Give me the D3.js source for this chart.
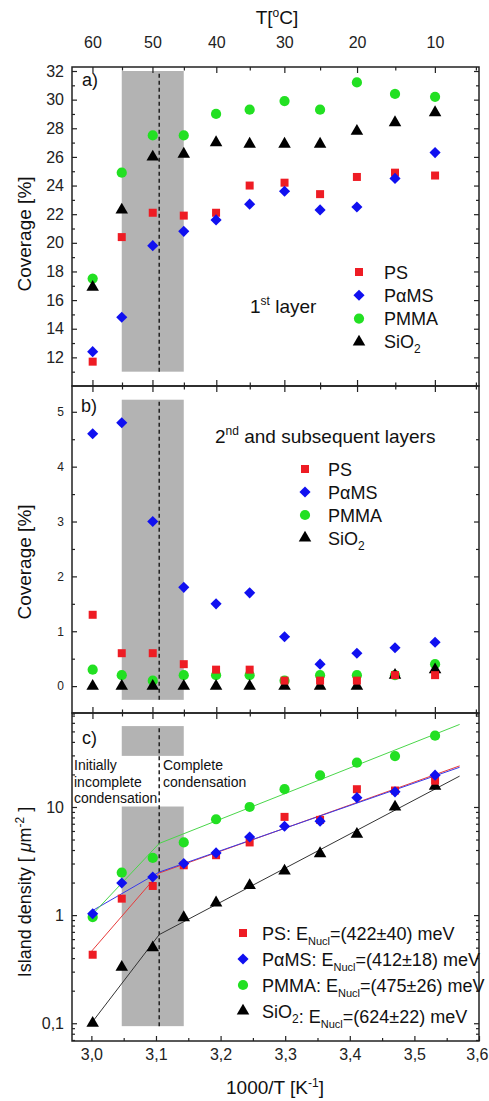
<!DOCTYPE html>
<html>
<head>
<meta charset="utf-8">
<script src="https://cdn.jsdelivr.net/npm/d3@7"></script>
<style>
  body { margin: 0; background: #fff; }
  svg { font-family: "Liberation Sans", Arial, sans-serif; }
</style>
</head>
<body>
<div id="chart"></div>
<script>
/* Data */
const tempsC = [60, 55, 50, 45, 40, 35, 30, 25, 20, 15, 10];
const invT = [3.002, 3.047, 3.095, 3.143, 3.193, 3.245, 3.299, 3.354, 3.411, 3.470, 3.532];

const seriesNames = ["PS", "PαMS", "PMMA", "SiO2"];

// a) 1st layer coverage [%]
const cov1PS   = [11.7, 20.4, 22.1, 21.9, 22.1, 24.0, 24.2, 23.4, 24.6, 24.9, 24.7];
const cov1PaMS = [12.4, 14.8, 19.8, 20.8, 21.6, 22.7, 23.6, 22.3, 22.5, 24.5, 26.3];
const cov1PMMA = [17.5, 24.9, 27.5, 27.5, 29.0, 29.3, 29.9, 29.3, 31.2, 30.4, 30.2];
const cov1SiO2 = [16.9, 22.3, 26.0, 26.2, 27.0, 26.9, 26.9, 26.9, 27.8, 28.4, 29.1];

// b) 2nd and subsequent layers coverage [%]
const cov2PS   = [1.3, 0.6, 0.6, 0.4, 0.3, 0.3, 0.1, 0.1, 0.1, 0.2, 0.2];
const cov2PaMS = [4.6, 4.8, 3.0, 1.8, 1.5, 1.7, 0.9, 0.4, 0.6, 0.7, 0.8];
const cov2PMMA = [0.3, 0.2, 0.1, 0.2, 0.2, 0.2, 0.1, 0.2, 0.2, 0.2, 0.4];
const cov2SiO2 = [0, 0, 0, 0, 0, 0, 0, 0, 0, 0.2, 0.3];

// c) island density [um^-2]
const densPS   = [0.43, 1.42, 1.86, 2.89, 3.58, 4.7, 8.1, 7.6, 14.6, 14.2, 17.5];
const densPaMS = [1.03, 1.98, 2.25, 3.0, 3.76, 5.28, 6.64, 7.39, 12.2, 13.8, 19.7];
const densPMMA = [0.96, 2.47, 3.38, 4.7, 7.7, 10.0, 14.6, 19.6, 25.7, 29.6, 45.7];
const densSiO2 = [0.1, 0.33, 0.5, 0.95, 1.3, 1.88, 2.56, 3.71, 5.6, 10.0, 15.6];

// piecewise Arrhenius fits: [1000/T, density]
const fitPS   = [[2.997, 0.44], [3.105, 2.45], [3.57, 24.0]];
const fitPaMS = [[2.997, 1.06], [3.105, 2.5], [3.57, 23.3]];
const fitPMMA = [[2.997, 0.95], [3.105, 4.6], [3.57, 58]];
const fitSiO2 = [[3.0, 0.1], [3.105, 0.66], [3.57, 19.3]];

const energies = ["(422±40) meV", "(412±18) meV", "(475±26) meV", "(624±22) meV"];

// axes
const topMajorC = [60, 50, 40, 30, 20, 10];
const topMinorC = [55, 45, 35, 25, 15, 5];
const xMajor = [3.0, 3.1, 3.2, 3.3, 3.4, 3.5, 3.6];
const xMinor = [3.05, 3.15, 3.25, 3.35, 3.45, 3.55];
const yAMajor = [12, 14, 16, 18, 20, 22, 24, 26, 28, 30, 32];
const yAMinor = [11, 13, 15, 17, 19, 21, 23, 25, 27, 29, 31];
const yBMajor = [0, 1, 2, 3, 4, 5];
const yBMinor = [-0.5, 0.5, 1.5, 2.5, 3.5, 4.5];
const yCMajor = [0.1, 1, 10];
const yCMinor = [0.07, 0.08, 0.09, 0.2, 0.3, 0.4, 0.5, 0.6, 0.7, 0.8, 0.9,
                 2, 3, 4, 5, 6, 7, 8, 9, 20, 30, 40, 50, 60, 70];

// shaded region (55..45 C) and transition line
const bandX = [3.047, 3.143];
const bandA = [11, 32];
const bandB = [-0.25, 5.22];
const bandC = [[0.094, 10.1], [29.7, 56]];
const transitionX = 3.105;

/* Layout */
const width = 489, height = 1101;
const X0 = 72, X1 = 479;
const panelA = [67, 386], panelB = [386, 713], panelC = [713, 1041];

const colors = ["#ee1c24", "#1010f0", "#22e022", "#000000"];
const lineColors = ["#e83a3a", "#3a3ae8", "#4ad64a", "#333333"];
const symbols = [
  { type: d3.symbolSquare, size: 64, rot: 0 },
  { type: d3.symbolSquare, size: 62, rot: 45 },
  { type: d3.symbolCircle, size: 82, rot: 0 },
  { type: d3.symbolTriangle, size: 68, rot: 0 }
];
const drawOrder = [2, 3, 0, 1];

const invTemp = (t) => 1000 / (t + 273.15);
const comma = (v) => String(v).replace(".", ",");

/* Scales */
const x = d3.scaleLinear().domain([2.97, 3.6]).range([X0, X1]);
const yA = d3.scaleLinear().domain([10, 32.28]).range([panelA[1], panelA[0]]);
const yB = d3.scaleLinear().domain([-0.49, 5.47]).range([panelB[1], panelB[0]]);
const yC = d3.scaleLog().domain([0.0685, 74]).range([panelC[1], panelC[0]]);

const svg = d3.select("#chart").append("svg")
  .attr("width", width).attr("height", height);

/* Shaded band + dashed line */
function band(yScale, lo, hi) {
  svg.append("rect")
    .attr("x", x(bandX[0])).attr("width", x(bandX[1]) - x(bandX[0]))
    .attr("y", yScale(hi)).attr("height", yScale(lo) - yScale(hi))
    .attr("fill", "#b3b3b3");
}
function dashed(yScale, lo, hi) {
  svg.append("line")
    .attr("x1", x(transitionX)).attr("x2", x(transitionX))
    .attr("y1", yScale(lo)).attr("y2", yScale(hi))
    .attr("stroke", "#222").attr("stroke-width", 1.5)
    .attr("stroke-dasharray", "4,3");
}
band(yA, bandA[0], bandA[1]);
band(yB, bandB[0], bandB[1]);
bandC.forEach(b => band(yC, b[0], b[1]));
dashed(yA, bandA[0], bandA[1]);
dashed(yB, bandB[0], bandB[1]);
dashed(yC, bandC[0][0], bandC[1][1]);

/* Fit lines (panel c) */
const fits = [fitPS, fitPaMS, fitPMMA, fitSiO2];
const line = d3.line().x(d => x(d[0])).y(d => yC(d[1]));
fits.forEach((f, i) => {
  svg.append("path").datum(f)
    .attr("d", line)
    .attr("fill", "none")
    .attr("stroke", lineColors[i])
    .attr("stroke-width", 1);
});

/* Markers */
function marker(g, i, px, py) {
  const s = symbols[i];
  g.append("path")
    .attr("d", d3.symbol().type(s.type).size(s.size)())
    .attr("transform", `translate(${px},${py}) rotate(${s.rot})`)
    .attr("fill", colors[i]);
}
function scatter(yScale, sets) {
  const g = svg.append("g");
  drawOrder.forEach(i => {
    sets[i].forEach((v, k) => marker(g, i, x(invT[k]), yScale(v)));
  });
}
scatter(yA, [cov1PS, cov1PaMS, cov1PMMA, cov1SiO2]);
scatter(yB, [cov2PS, cov2PaMS, cov2PMMA, cov2SiO2]);
scatter(yC, [densPS, densPaMS, densPMMA, densSiO2]);

/* Axes */
const tickColor = "#222";
function yTicks(yScale, majors, minors, fmt, fs) {
  const gl = svg.append("g").attr("transform", `translate(${X0},0)`)
    .call(d3.axisLeft(yScale).tickValues(majors).tickSize(-5).tickPadding(8).tickFormat(fmt));
  gl.selectAll("text").style("font-size", fs + "px");
  svg.append("g").attr("transform", `translate(${X0},0)`)
    .call(d3.axisLeft(yScale).tickValues(minors).tickSize(-3).tickFormat(""));
  svg.append("g").attr("transform", `translate(${X1},0)`)
    .call(d3.axisRight(yScale).tickValues(majors).tickSize(-5).tickFormat(""));
  svg.append("g").attr("transform", `translate(${X1},0)`)
    .call(d3.axisRight(yScale).tickValues(minors).tickSize(-3).tickFormat(""));
}
yTicks(yA, yAMajor, yAMinor, d => d, 16);
yTicks(yB, yBMajor, yBMinor, d => d, 12);
yTicks(yC, yCMajor, yCMinor, d => comma(d), 16);

// temperature ticks on every panel edge except the very bottom
function tTicks(yPos, dir) {
  const ax = dir === "top" ? d3.axisTop : d3.axisBottom;
  svg.append("g").attr("transform", `translate(0,${yPos})`)
    .call(ax(x).tickValues(topMajorC.map(invTemp)).tickSize(-6).tickFormat(""));
  svg.append("g").attr("transform", `translate(0,${yPos})`)
    .call(ax(x).tickValues(topMinorC.map(invTemp)).tickSize(-3.5).tickFormat(""));
}
tTicks(panelA[0], "top");
tTicks(panelA[1], "bottom");
tTicks(panelB[0], "top");
tTicks(panelB[1], "bottom");
tTicks(panelC[0], "top");

// top temperature labels
const gTop = svg.append("g").attr("transform", `translate(0,${panelA[0]})`)
  .call(d3.axisTop(x).tickValues(topMajorC.map(invTemp)).tickSize(0).tickPadding(19)
    .tickFormat((d, i) => topMajorC[i]));
gTop.selectAll("text").style("font-size", "16px");

// bottom 1000/T axis
const gBot = svg.append("g").attr("transform", `translate(0,${panelC[1]})`)
  .call(d3.axisBottom(x).tickValues(xMajor).tickSize(-5).tickPadding(8)
    .tickFormat(d => comma(d3.format(".1f")(d))));
gBot.selectAll("text").style("font-size", "16px");
// last label sits against the page edge
gBot.selectAll("text").filter(d => d === 3.6)
  .attr("text-anchor", "end").attr("dx", 9);
svg.append("g").attr("transform", `translate(0,${panelC[1]})`)
  .call(d3.axisBottom(x).tickValues(xMinor).tickSize(-3).tickFormat(""));

svg.selectAll(".domain").remove();
svg.selectAll(".tick line").attr("stroke", tickColor).attr("stroke-width", 1.2);
svg.selectAll(".tick text").attr("fill", "#222").style("font-family", "'Liberation Sans', Arial, sans-serif");

/* Frames */
[panelA, panelB, panelC].forEach(p => {
  svg.append("rect")
    .attr("x", X0).attr("y", p[0])
    .attr("width", X1 - X0).attr("height", p[1] - p[0])
    .attr("fill", "none").attr("stroke", "#222").attr("stroke-width", 1.5);
});

/* Titles */
const txt = (px, py, fs) => svg.append("text")
  .attr("x", px).attr("y", py).style("font-size", fs + "px").attr("fill", "#111");

// T[°C]
const tT = txt(277, 24, 19).attr("text-anchor", "middle");
tT.append("tspan").text("T[");
tT.append("tspan").text("o").style("font-size", "12px").attr("dy", -7);
tT.append("tspan").text("C]").attr("dy", 7);

// x label
const tX = txt(275, 1094, 19).attr("text-anchor", "middle");
tX.append("tspan").text("1000/T [K");
tX.append("tspan").text("-1").style("font-size", "12px").attr("dy", -7);
tX.append("tspan").text("]").attr("dy", 7);

// y labels
function yLabel(cy, fs, build) {
  const t = svg.append("text")
    .attr("transform", `translate(31,${cy}) rotate(-90)`)
    .attr("text-anchor", "middle")
    .style("font-size", fs + "px").attr("fill", "#111");
  build(t);
}
yLabel(234, 19, t => t.text("Coverage [%]"));
yLabel(562, 19, t => t.text("Coverage [%]"));
yLabel(892, 18, t => {
  t.append("tspan").text("Island density [ ");
  t.append("tspan").text("μ").style("font-style", "italic");
  t.append("tspan").text("m");
  t.append("tspan").text("-2").style("font-size", "12px").attr("dy", -7);
  t.append("tspan").text(" ]").attr("dy", 7);
});

// panel letters
txt(82, 86, 18).text("a)");
txt(81, 412, 18).text("b)");
txt(82, 744, 18).text("c)");

// 1st layer
const t1 = txt(250, 313, 19);
t1.append("tspan").text("1");
t1.append("tspan").text("st").style("font-size", "12px").attr("dy", -8);
t1.append("tspan").text(" layer").attr("dy", 8);

// 2nd and subsequent layers
const t2 = txt(215, 443, 19);
t2.append("tspan").text("2");
t2.append("tspan").text("nd").style("font-size", "12px").attr("dy", -8);
t2.append("tspan").text(" and subsequent layers").attr("dy", 8);

// condensation notes
["Initially", "incomplete", "condensation"].forEach((s, i) =>
  txt(74, 770 + i * 16.5, 14).text(s));
["Complete", "condensation"].forEach((s, i) =>
  txt(163, 770 + i * 16.5, 14).text(s));

/* Legends */
function nameSpans(t, i) {
  if (seriesNames[i] === "SiO2") {
    t.append("tspan").text("SiO");
    t.append("tspan").text("2").style("font-size", "12px").attr("dy", 5);
    t.append("tspan").text("").attr("dy", -5);
  } else {
    t.append("tspan").text(seriesNames[i]);
  }
}
function legend(mx, tx, y0, dy, withE) {
  const g = svg.append("g");
  seriesNames.forEach((n, i) => {
    const cy = y0 + i * dy;
    marker(g, i, mx, cy);
    const t = txt(tx, cy + 6.5, 18);
    nameSpans(t, i);
    if (withE) {
      t.append("tspan").text(": E");
      t.append("tspan").text("Nucl").style("font-size", "11px").attr("dy", 5);
      t.append("tspan").text("=" + energies[i]).attr("dy", -5);
    }
  });
}
legend(359, 384, 272, 23.3, false);
legend(305, 328, 469, 23, false);
legend(243, 262, 933, 26, true);
</script>
</body>
</html>
